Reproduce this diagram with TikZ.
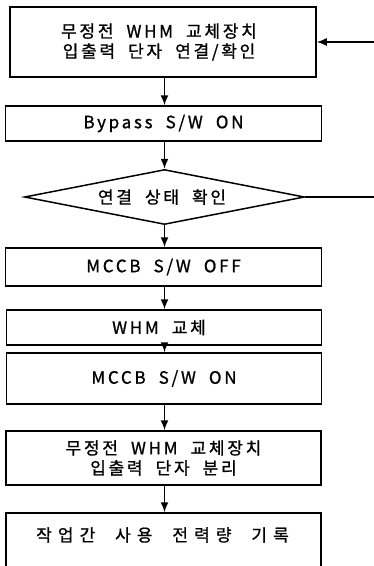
\documentclass[tikz,border=0pt]{standalone}
\usepackage{fontspec}
\setmainfont{Noto Sans CJK KR}[LetterSpace=16,WordSpace=2,FakeBold=1]
\usetikzlibrary{shapes.geometric,arrows.meta}
\begin{document}
\begin{tikzpicture}[x=1pt,y=-1pt,
  every node/.style={font=\fontsize{17}{20}\selectfont,text=black},
  stepbox/.style={draw,line width=1.5pt,rectangle,inner sep=0pt,align=center},
  decide/.style={draw,line width=1.5pt,diamond,aspect=5,inner sep=0pt},
  flow/.style={line width=1.5pt,-{Latex[length=10pt,width=8pt]}}]
\useasboundingbox (0,0) rectangle (374,566);
\coordinate (ax) at (164.5,0);
\node[stepbox,minimum width=306,minimum height=70] (b1) at (163,42) {};
\node[align=center] (t1) at (159,42) {무정전 WHM 교체장치\\입출력 단자 연결/확인};
\node[stepbox,minimum width=316,minimum height=35] (b2) at (163.5,123.5) {Bypass S/W ON};
\node[decide,minimum width=280,minimum height=55] (d) at (164.5,197) {};
\node (td) at (162,197) {연결 상태 확인};
\node[stepbox,minimum width=316,minimum height=38] (b3) at (163.5,267) {MCCB S/W OFF};
\node[stepbox,minimum width=315,minimum height=35] (b4) at (164,327.5) {};
\node (t4) at (159,327.5) {WHM 교체};
\node[stepbox,minimum width=315,minimum height=51] (b5) at (164,378.5) {MCCB S/W ON};
\node[stepbox,minimum width=315,minimum height=54] (b6) at (163.5,458)
  {무정전 WHM 교체장치\\입출력 단자 분리};
\node[stepbox,minimum width=315,minimum height=90] (b7) at (163.5,558) {};
\node (t7) at (162.5,535) {\addfontfeatures{LetterSpace=36}작업간 사용 전력량 기록};
\draw[flow] (b1.south -| ax) -- (b2.north -| ax);
\draw[flow] (b2.south -| ax) -- (d.north);
\draw[flow] (d.south) -- (b3.north -| ax);
\draw[flow] (b3.south -| ax) -- (b4.north -| ax);
\draw[flow] (b4.south -| ax) -- (b5.north -| ax);
\draw[flow] (b5.south -| ax) -- (b6.north -| ax);
\draw[flow] (b6.south -| ax) -- (b7.north -| ax);
\coordinate (fb) at (378,197);
\draw[flow] (d.east) -- (fb) |- (b1.east);
\end{tikzpicture}
\end{document}
